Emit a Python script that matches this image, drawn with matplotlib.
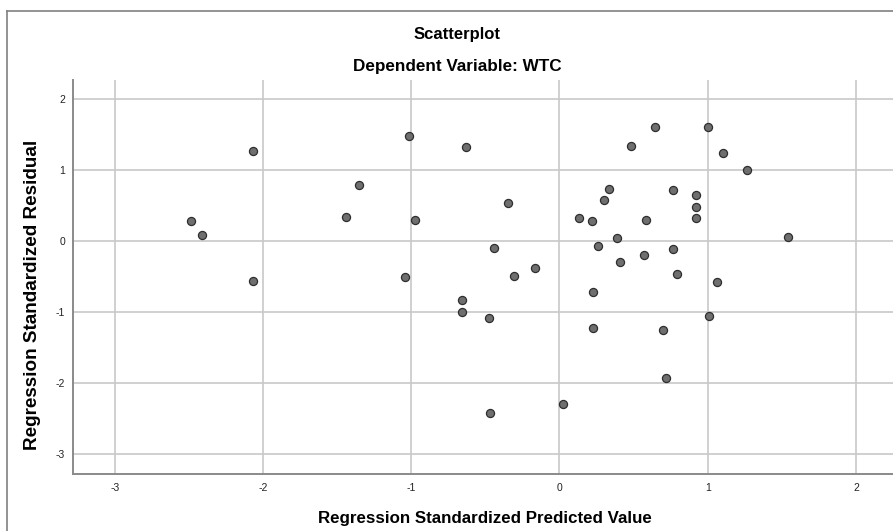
import matplotlib
matplotlib.use("Agg")
import matplotlib.pyplot as plt
from matplotlib.lines import Line2D

# standardized predicted values (x) and standardized residuals (y)
pred = [-2.486, -2.411, -2.065, -2.065, -1.437, -1.350, -1.041, -1.017, -0.972, -0.634,
        -0.659, -0.659, -0.474, -0.472, -0.439, -0.346, -0.310, -0.164, 0.025, 0.130,
        0.220, 0.223, 0.223, 0.258, 0.297, 0.331, 0.387, 0.405, 0.484, 0.569,
        0.582, 0.643, 0.697, 0.717, 0.767, 0.769, 0.792, 0.920, 0.920, 0.922,
        1.005, 1.010, 1.064, 1.102, 1.262, 1.541]
resid = [0.286, 0.085, 1.272, -0.559, 0.338, 0.797, -0.503, 1.487, 0.300, 1.324,
         -0.831, -1.000, -1.080, -2.414, -0.094, 0.535, -0.484, -0.380, -2.296, 0.328,
         0.290, -0.709, -1.217, -0.061, 0.586, 0.741, 0.051, -0.292, 1.342, -0.193,
         0.300, 1.606, -1.249, -1.930, 0.718, -0.113, -0.456, 0.657, 0.487, 0.324,
         1.614, -1.052, -0.578, 1.239, 1.004, 0.056]

x_ticks = [-3, -2, -1, 0, 1, 2]
y_ticks = [-3, -2, -1, 0, 1, 2]

plt.rcParams["font.family"] = ["Liberation Sans", "DejaVu Sans"]
plt.rcParams["axes.unicode_minus"] = False

W, H = 893, 531
fig = plt.figure(figsize=(W / 100, H / 100), dpi=100)

# outer frame (left and top edges visible only)
fig.add_artist(Line2D([7 / W, 7 / W], [0, 1 - 11 / H], transform=fig.transFigure,
                      color="#808080", lw=1.2))
fig.add_artist(Line2D([7 / W, 1], [1 - 11 / H, 1 - 11 / H], transform=fig.transFigure,
                      color="#808080", lw=1.2))

left, right, top, bottom = 73.3, 893, 80, 474.3
ax = fig.add_axes([left / W, 1 - bottom / H, (right - left) / W, (bottom - top) / H])

ax.scatter(pred, resid, s=34, facecolor="#6f6f6f", edgecolor="#2e2e2e",
           linewidth=0.9, zorder=3)

ax.set_xlim(-3.28, 2.25)
ax.set_ylim(-3.28, 2.27)
ax.set_xticks(x_ticks)
ax.set_yticks(y_ticks)
ax.grid(True, color="#c8c8c8", linewidth=1.2)
ax.set_axisbelow(True)
for s in ["top", "right"]:
    ax.spines[s].set_visible(False)
for s in ["left", "bottom"]:
    ax.spines[s].set_color("#8a8a8a")
    ax.spines[s].set_linewidth(1.4)
ax.tick_params(length=0, labelsize=7.5, labelcolor="#222222")
ax.tick_params(axis="x", pad=6.5)
ax.tick_params(axis="y", pad=6)

fig.text(457 / W, 1 - 35 / H, "Scatterplot", ha="center", va="center",
         fontsize=12, fontweight="bold")
fig.text(457 / W, 1 - 67 / H, "Dependent Variable: WTC", ha="center", va="center",
         fontsize=12.3, fontweight="bold")
fig.text(485 / W, 1 - 518 / H, "Regression Standardized Predicted Value",
         ha="center", va="center", fontsize=12.2, fontweight="bold")
fig.text(33 / W, 1 - 295 / H, "Regression Standardized Residual", rotation=90,
         ha="center", va="center", fontsize=13.6, fontweight="bold")

fig.savefig("out.png", dpi=100)
